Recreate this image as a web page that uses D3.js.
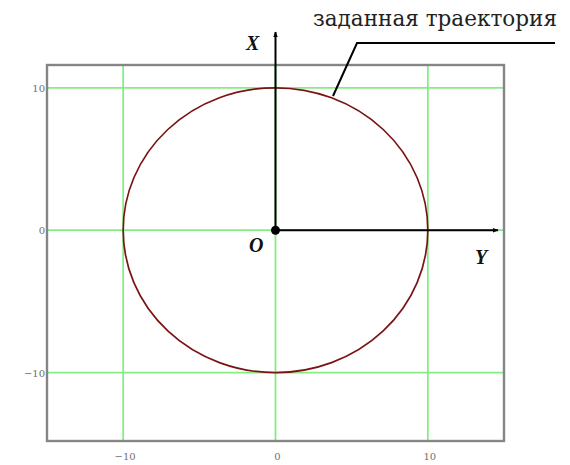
<!DOCTYPE html>
<html>
<head>
<meta charset="utf-8">
<script src="https://cdn.jsdelivr.net/npm/d3@7"></script>
<style>
  body { margin: 0; background: #fff; }
  svg { display: block; }
  .lbl { font-family: 'DejaVu Serif', 'Liberation Serif', serif; }
</style>
</head>
<body>
<svg width="570" height="465"></svg>
<script>
// chart data
const xTicks = [-10, 0, 10];
const yTicks = [-10, 0, 10];
const xDomain = [-15, 15];
const yDomain = [-14.8, 11.6];
const trajectoryCenter = [0, 0];
const trajectoryRadius = [10];
const trajectoryLabel = 'заданная траектория';

const svg = d3.select('svg');

// scales
const x = d3.scaleLinear().domain(xDomain).range([47, 504]);
const y = d3.scaleLinear().domain(yDomain).range([441, 65]);

const fmt = d => (d < 0 ? '\u2212' + Math.abs(d) : String(d));

// green grid
svg.append('g')
  .selectAll('line')
  .data(xTicks)
  .enter()
  .append('line')
  .attr('x1', d => x(d)).attr('x2', d => x(d))
  .attr('y1', y.range()[0]).attr('y2', y.range()[1])
  .attr('stroke', '#86ec86')
  .attr('stroke-width', 1.8);

svg.append('g')
  .selectAll('line')
  .data(yTicks)
  .enter()
  .append('line')
  .attr('x1', x.range()[0]).attr('x2', x.range()[1])
  .attr('y1', d => y(d)).attr('y2', d => y(d))
  .attr('stroke', '#86ec86')
  .attr('stroke-width', 1.8);

// frame
svg.append('rect')
  .attr('x', x.range()[0])
  .attr('y', y.range()[1])
  .attr('width', x.range()[1] - x.range()[0])
  .attr('height', y.range()[0] - y.range()[1])
  .attr('fill', 'none')
  .attr('stroke', '#858585')
  .attr('stroke-width', 2.4);

// tick labels
svg.append('g')
  .selectAll('text')
  .data(xTicks)
  .enter()
  .append('text')
  .attr('x', d => x(d) + 2)
  .attr('y', 460)
  .attr('text-anchor', 'middle')
  .attr('font-family', 'DejaVu Serif, serif')
  .attr('font-size', 10)
  .attr('fill', '#707070')
  .text(fmt);

svg.append('g')
  .selectAll('text')
  .data(yTicks)
  .enter()
  .append('text')
  .attr('x', 45)
  .attr('y', d => y(d) + 4)
  .attr('text-anchor', 'end')
  .attr('font-family', 'DejaVu Serif, serif')
  .attr('font-size', 10)
  .attr('fill', '#707070')
  .text(fmt);

// trajectory circle
svg.append('ellipse')
  .attr('cx', x(trajectoryCenter[0]))
  .attr('cy', y(trajectoryCenter[1]))
  .attr('rx', x(trajectoryRadius[0]) - x(0))
  .attr('ry', y(0) - y(trajectoryRadius[0]))
  .attr('fill', 'none')
  .attr('stroke', '#7a1414')
  .attr('stroke-width', 1.7);

// arrows
const defs = svg.append('defs');
defs.append('marker')
  .attr('id', 'arr')
  .attr('viewBox', '0 0 10 10')
  .attr('refX', 9).attr('refY', 5)
  .attr('markerWidth', 6).attr('markerHeight', 6)
  .attr('markerUnits', 'userSpaceOnUse')
  .attr('orient', 'auto')
  .append('path')
  .attr('d', 'M0,1 L10,5 L0,9 Z')
  .attr('fill', '#000');

const ox = x(0), oy = y(0);

svg.append('line')
  .attr('x1', ox).attr('y1', oy)
  .attr('x2', ox).attr('y2', 32)
  .attr('stroke', '#000').attr('stroke-width', 2)
  .attr('marker-end', 'url(#arr)');

svg.append('line')
  .attr('x1', ox).attr('y1', oy)
  .attr('x2', 498).attr('y2', oy)
  .attr('stroke', '#000').attr('stroke-width', 2)
  .attr('marker-end', 'url(#arr)');

svg.append('circle')
  .attr('cx', ox).attr('cy', oy)
  .attr('r', 4.5)
  .attr('fill', '#000');

const axisLabel = (tx, ty, s) => svg.append('text')
  .attr('x', tx).attr('y', ty)
  .attr('font-family', 'Liberation Serif, serif')
  .attr('font-style', 'italic')
  .attr('font-weight', 'bold')
  .attr('font-size', 20)
  .attr('fill', '#111')
  .text(s);

axisLabel(246, 50, 'X');
axisLabel(475, 264, 'Y');
axisLabel(249, 252, 'O');

// leader line + label
svg.append('path')
  .attr('d', 'M333,96 L357,43 L555,43')
  .attr('fill', 'none')
  .attr('stroke', '#000')
  .attr('stroke-width', 2);

svg.append('text')
  .attr('class', 'lbl')
  .attr('x', 313)
  .attr('y', 26)
  .attr('font-size', 22)
  .attr('textLength', 244)
  .attr('lengthAdjust', 'spacingAndGlyphs')
  .attr('fill', '#222')
  .text(trajectoryLabel);
</script>
</body>
</html>
